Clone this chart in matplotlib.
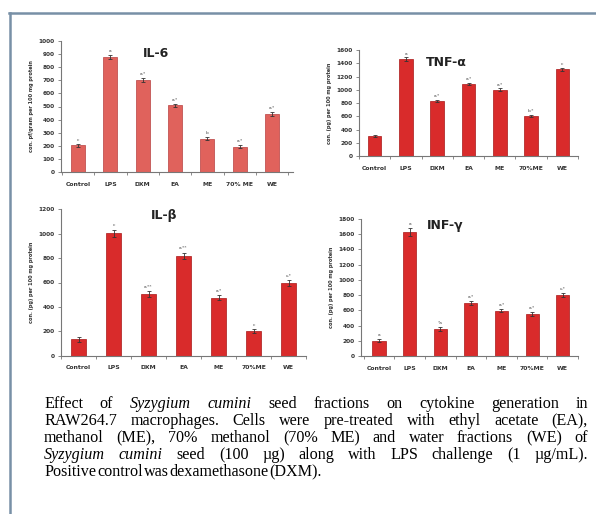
import numpy as np
import matplotlib
matplotlib.use("Agg")
import matplotlib.pyplot as plt
from matplotlib.lines import Line2D

W, H = 596, 514

groups = ["Control", "LPS", "DXM", "EA", "ME", "70%ME", "WE"]

il6 = [205, 878, 701, 509, 256, 195, 443]
il6_err = [12, 15, 14, 12, 10, 10, 12]
il6_sig = ["c", "a", "a,*", "a,*", "b", "a,*", "a,*"]

tnf = [302, 1464, 830, 1087, 1001, 608, 1308]
tnf_err = [15, 25, 20, 20, 20, 18, 22]
tnf_sig = ["", "a", "a,*", "a,*", "a,*", "b,*", "c"]

ilb = [134, 1003, 503, 820, 476, 203, 596]
ilb_err = [20, 30, 25, 25, 22, 18, 22]
ilb_sig = ["", "c", "a,**", "a,**", "a,*", "c", "c,*"]

infg = [201, 1629, 355, 700, 595, 552, 801]
infg_err = [18, 50, 20, 25, 22, 22, 25]
infg_sig = ["a", "a", "*a", "a,*", "a,*", "a,*", "c,*"]


def px_axes(fig, x0, x1, ytop, ybot):
    return fig.add_axes([x0 / W, 1 - ybot / H, (x1 - x0) / W, (ybot - ytop) / H])


def panel(fig, box, vals, errs, sig, ymax, step, title, tpos, ylabel, color, edge, xlo, xhi, labels):
    ax = px_axes(fig, *box)
    x = np.arange(len(vals))
    ax.bar(x, vals, width=0.43, color=color, edgecolor=edge, linewidth=0.5, zorder=2)
    ax.errorbar(x, vals, yerr=errs, fmt="none", ecolor="#333333", elinewidth=0.6,
                capsize=1.2, capthick=0.6, zorder=3)
    for xi, v, e, s in zip(x, vals, errs, sig):
        ax.text(xi, v + e + ymax * 0.015, s, ha="center", va="bottom", fontsize=3.2,
                color="#444444")
    ax.set_ylim(0, ymax)
    ax.set_xlim(xlo, xhi)
    ax.set_yticks(np.arange(0, ymax + 1, step))
    ax.set_yticklabels([str(int(t)) for t in np.arange(0, ymax + 1, step)],
                       fontsize=4.2, fontweight="bold", color="#333333")
    ax.set_xticks(np.arange(-0.5, len(vals), 1.0))
    ax.set_xticklabels([])
    ax.set_xticks(x, minor=True)
    ax.set_xticklabels(labels, minor=True, fontsize=4.4, fontweight="bold", color="#333333")
    ax.tick_params(axis="x", which="major", length=2.5, width=0.6, color="#777777")
    ax.tick_params(axis="x", which="minor", length=0, pad=7)
    ax.tick_params(axis="y", length=2.5, width=0.6, color="#777777", pad=2)
    for s in ["top", "right"]:
        ax.spines[s].set_visible(False)
    for s in ["left", "bottom"]:
        ax.spines[s].set_color("#777777")
        ax.spines[s].set_linewidth(0.8)
    ax.set_ylabel(ylabel, fontsize=3.6, fontweight="bold", color="#333333", labelpad=3)
    ax.text(tpos[0], tpos[1], title, transform=ax.transAxes, ha="center", va="center",
            fontsize=9, fontweight="bold", color="#222222")
    return ax


fig = plt.figure(figsize=(W / 100, H / 100), dpi=100)
fig.patch.set_facecolor("white")

# frame lines (top and left)
fig.add_artist(Line2D([9 / W, 1], [1 - 13 / H, 1 - 13 / H], color="#7890a6", lw=1.8))
fig.add_artist(Line2D([10 / W, 10 / W], [1 - 13 / H, 0], color="#7890a6", lw=1.8))

red = "#d92b2b"
red_edge = "#a81818"

panel(fig, (61, 293, 40.7, 172.3), il6, il6_err, il6_sig, 1000, 100, "IL-6", (0.41, 0.9),
      "con. pf/gram per 100 mg protein", "#e0625c", "#b84040", -0.53, 6.65,
      ["Control", "LPS", "DXM", "EA", "ME", "70% ME", "WE"])
panel(fig, (359, 578, 50, 156), tnf, tnf_err, tnf_sig, 1600, 200, "TNF-α", (0.4, 0.88),
      "con. (pg) per 100 mg protein", red, red_edge, -0.48, 6.5, groups)
panel(fig, (61, 306, 209.3, 355.7), ilb, ilb_err, ilb_sig, 1200, 200, "IL-β", (0.42, 0.96),
      "con. (pg) per 100 mg protein", red, red_edge, -0.48, 6.46, groups)
panel(fig, (361, 578, 219, 356), infg, infg_err, infg_sig, 1800, 200, "INF-γ", (0.39, 0.95),
      "con. (pg) per 100 mg protein", red, red_edge, -0.59, 6.5, groups)

# caption, justified between x0 and x1
cap_lines = [
    [("Effect", 0), ("of", 0), ("Syzygium", 1), ("cumini", 1), ("seed", 0), ("fractions", 0),
     ("on", 0), ("cytokine", 0), ("generation", 0), ("in", 0)],
    [("RAW264.7", 0), ("macrophages.", 0), ("Cells", 0), ("were", 0), ("pre-treated", 0),
     ("with", 0), ("ethyl", 0), ("acetate", 0), ("(EA),", 0)],
    [("methanol", 0), ("(ME),", 0), ("70%", 0), ("methanol", 0), ("(70%", 0), ("ME)", 0),
     ("and", 0), ("water", 0), ("fractions", 0), ("(WE)", 0), ("of", 0)],
    [("Syzygium", 1), ("cumini", 1), ("seed", 0), ("(100", 0), ("µg)", 0), ("along", 0),
     ("with", 0), ("LPS", 0), ("challenge", 0), ("(1", 0), ("µg/mL).", 0)],
    [("Positive", 0), ("control", 0), ("was", 0), ("dexamethasone", 0), ("(DXM).", 0)],
]
cap_x0, cap_x1 = 44, 588
cap_y = [404, 421, 438, 455, 472]

renderer = fig.canvas.get_renderer()
for li, (words, yy) in enumerate(zip(cap_lines, cap_y)):
    texts = []
    for w, it in words:
        t = fig.text(0, 1 - yy / H, w, fontsize=11.6, family="Liberation Serif",
                     style="italic" if it else "normal", va="center", ha="left",
                     color="#000000")
        texts.append(t)
    widths = [t.get_window_extent(renderer).width for t in texts]
    if li < len(cap_lines) - 1:
        gap = (cap_x1 - cap_x0 - sum(widths)) / (len(words) - 1)
    else:
        gap = 1.0
    xx = cap_x0
    for t, wd in zip(texts, widths):
        t.set_x(xx / W)
        xx += wd + gap

fig.savefig("out.png", dpi=100)
